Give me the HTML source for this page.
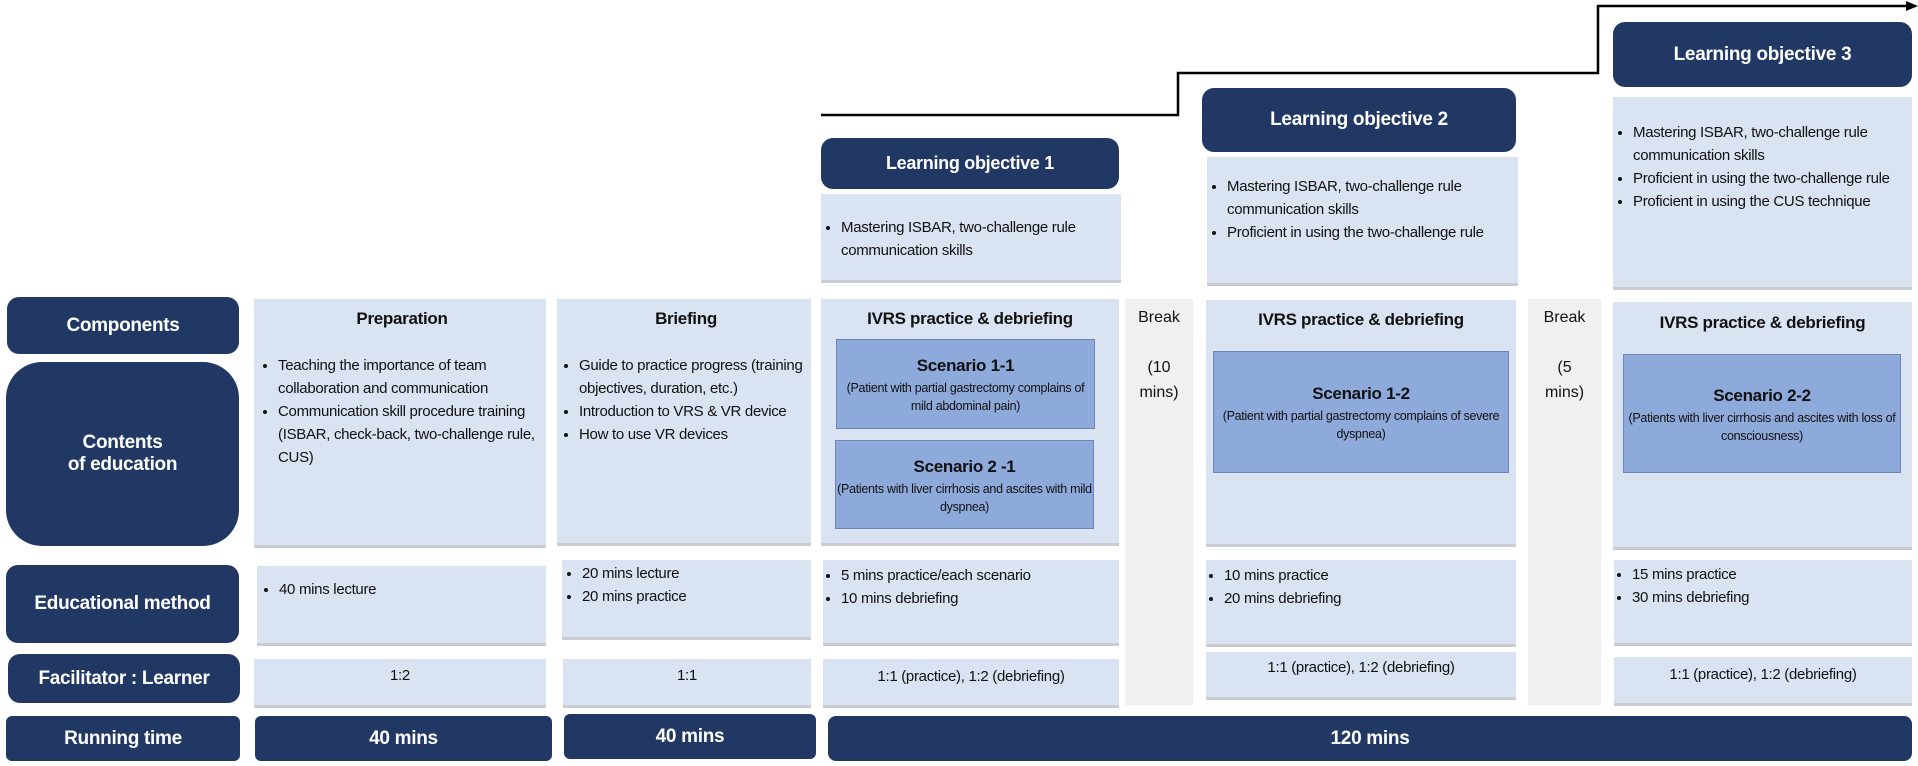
<!DOCTYPE html>
<html><head><meta charset="utf-8"><style>
body{margin:0;width:1918px;height:766px;background:#fff;position:relative;overflow:hidden;font-family:"Liberation Sans",sans-serif;color:#111;}
.a{position:absolute;box-sizing:border-box;}
.nv{background:#213864;color:#fff;font-weight:bold;border-radius:12px;display:flex;align-items:center;justify-content:center;text-align:center;font-size:19px;letter-spacing:-0.3px;}
.lp{background:#dae3f2;box-shadow:0 3px 0 #c9ccd2;font-size:15px;letter-spacing:-0.3px;line-height:23px;}
.br{background:#f0f0f0;font-size:16px;text-align:center;line-height:25px;padding-top:6px;}
.sc{background:#8eaadb;border:1.5px solid #6f87b8;text-align:center;font-size:12.5px;line-height:18px;letter-spacing:-0.3px;display:flex;flex-direction:column;justify-content:center;}
.sc b{font-size:17px;line-height:26px;}
.h{font-weight:bold;font-size:17px;text-align:center;letter-spacing:-0.3px;}
ul{margin:0;padding:0 0 0 14px;}
li{margin:0;}
.c{text-align:center;}
</style></head><body>
<svg class="a" style="left:0;top:0" width="1918" height="200">
<polyline points="821,115 1178,115 1178,73 1598,73 1598,6 1908,6" fill="none" stroke="#000" stroke-width="2.5"/>
<polygon points="1918,6 1906,1 1906,11" fill="#000"/>
</svg>

<!-- left labels -->
<div class="a nv" style="left:7px;top:297px;width:232px;height:57px;">Components</div>
<div class="a nv" style="left:6px;top:362px;width:233px;height:184px;border-radius:36px;">Contents<br>of education</div>
<div class="a nv" style="left:6px;top:565px;width:233px;height:78px;">Educational method</div>
<div class="a nv" style="left:8px;top:654px;width:232px;height:49px;">Facilitator : Learner</div>
<div class="a nv" style="left:6px;top:716px;width:234px;height:45px;border-radius:6px;">Running time</div>

<!-- learning objectives -->
<div class="a nv" style="left:821px;top:138px;width:298px;height:51px;font-size:18px;">Learning objective 1</div>
<div class="a lp" style="left:821px;top:194px;width:300px;height:86px;padding:22px 8px 0 6px;"><ul><li>Mastering ISBAR, two-challenge rule communication skills</li></ul></div>
<div class="a nv" style="left:1202px;top:88px;width:314px;height:64px;">Learning objective 2</div>
<div class="a lp" style="left:1207px;top:157px;width:311px;height:126px;padding:18px 6px 0 6px;"><ul><li>Mastering ISBAR, two-challenge rule communication skills</li><li>Proficient in using the two-challenge rule</li></ul></div>
<div class="a nv" style="left:1613px;top:22px;width:299px;height:65px;">Learning objective 3</div>
<div class="a lp" style="left:1613px;top:97px;width:299px;height:190px;padding:24px 6px 0 6px;"><ul><li>Mastering ISBAR, two-challenge rule communication skills</li><li>Proficient in using the two-challenge rule</li><li>Proficient in using the CUS technique</li></ul></div>

<!-- components/contents -->
<div class="a lp" style="left:254px;top:299px;width:292px;height:246px;padding:8px 6px 0 10px;"><div class="h">Preparation</div><ul style="margin-top:24px"><li>Teaching the importance of team collaboration and communication</li><li>Communication skill procedure training (ISBAR, check-back, two-challenge rule, CUS)</li></ul></div>
<div class="a lp" style="left:557px;top:299px;width:254px;height:244px;padding:8px 4px 0 8px;"><div class="h">Briefing</div><ul style="margin-top:24px"><li>Guide to practice progress (training objectives, duration, etc.)</li><li>Introduction to VRS &amp; VR device</li><li>How to use VR devices</li></ul></div>
<div class="a lp" style="left:821px;top:299px;width:298px;height:244px;padding-top:8px;"><div class="h">IVRS practice &amp; debriefing</div></div>
<div class="a sc" style="left:836px;top:339px;width:259px;height:90px;"><b>Scenario 1-1</b>(Patient with partial gastrectomy complains of mild abdominal pain)</div>
<div class="a sc" style="left:835px;top:440px;width:259px;height:89px;"><b>Scenario 2 -1</b>(Patients with liver cirrhosis and ascites with mild dyspnea)</div>
<div class="a br" style="left:1125px;top:299px;width:68px;height:406px;">Break<br><br>(10<br>mins)</div>
<div class="a lp" style="left:1206px;top:300px;width:310px;height:244px;padding-top:8px;"><div class="h">IVRS practice &amp; debriefing</div></div>
<div class="a sc" style="left:1213px;top:351px;width:296px;height:122px;"><b>Scenario 1-2</b>(Patient with partial gastrectomy complains of severe dyspnea)</div>
<div class="a br" style="left:1528px;top:299px;width:73px;height:406px;">Break<br><br>(5<br>mins)</div>
<div class="a lp" style="left:1613px;top:302px;width:299px;height:245px;padding-top:9px;"><div class="h">IVRS practice &amp; debriefing</div></div>
<div class="a sc" style="left:1623px;top:354px;width:278px;height:119px;"><b>Scenario 2-2</b>(Patients with liver cirrhosis and ascites with loss of consciousness)</div>

<!-- educational method -->
<div class="a lp" style="left:257px;top:566px;width:289px;height:77px;padding:12px 6px 0 8px;"><ul><li>40 mins lecture</li></ul></div>
<div class="a lp" style="left:562px;top:560px;width:249px;height:77px;padding:2px 6px 0 6px;"><ul><li>20 mins lecture</li><li>20 mins practice</li></ul></div>
<div class="a lp" style="left:823px;top:560px;width:296px;height:83px;padding:4px 6px 0 4px;"><ul><li>5 mins practice/each scenario</li><li>10 mins debriefing</li></ul></div>
<div class="a lp" style="left:1206px;top:560px;width:310px;height:84px;padding:4px 6px 0 4px;"><ul><li>10 mins practice</li><li>20 mins debriefing</li></ul></div>
<div class="a lp" style="left:1614px;top:560px;width:298px;height:83px;padding:3px 6px 0 4px;"><ul><li>15 mins practice</li><li>30 mins debriefing</li></ul></div>

<!-- facilitator -->
<div class="a lp c" style="left:254px;top:659px;width:292px;height:46px;padding-top:5px;">1:2</div>
<div class="a lp c" style="left:563px;top:659px;width:248px;height:46px;padding-top:5px;">1:1</div>
<div class="a lp c" style="left:823px;top:659px;width:296px;height:46px;padding-top:6px;">1:1 (practice), 1:2 (debriefing)</div>
<div class="a lp c" style="left:1206px;top:652px;width:310px;height:45px;padding-top:4px;">1:1 (practice), 1:2 (debriefing)</div>
<div class="a lp c" style="left:1614px;top:657px;width:298px;height:46px;padding-top:6px;">1:1 (practice), 1:2 (debriefing)</div>

<!-- running time -->
<div class="a nv" style="left:255px;top:716px;width:297px;height:45px;border-radius:6px;">40 mins</div>
<div class="a nv" style="left:564px;top:714px;width:252px;height:45px;border-radius:6px;">40 mins</div>
<div class="a nv" style="left:828px;top:716px;width:1084px;height:45px;border-radius:8px;">120 mins</div>
</body></html>
